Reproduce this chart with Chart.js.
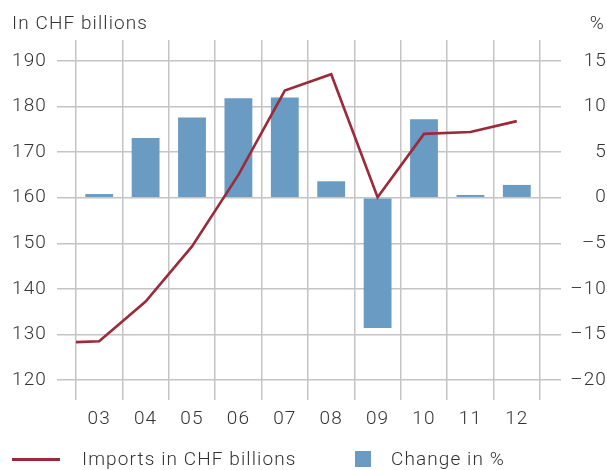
<!DOCTYPE html>
<html>
<head>
<meta charset="utf-8">
<script src="https://cdn.jsdelivr.net/npm/chart.js@4/dist/chart.umd.min.js"></script>
<style>
  body { margin: 0; background: #fff; }
  #wrap { position: relative; width: 607px; height: 470px; font-family: Roboto, "Liberation Sans", sans-serif; font-weight: 300; color: #333; font-size: 19px; letter-spacing: 1.1px; }
  #wrap canvas { position: absolute; left: 0; top: 0; }
  .txt { position: absolute; line-height: 19px; white-space: nowrap; }
  .swatch-line { position: absolute; height: 3px; }
  .swatch-box { position: absolute; width: 16px; height: 16px; }
</style>
</head>
<body>
<div id="wrap">
  <canvas id="importsChart" width="607" height="470"></canvas>
  <div class="txt" style="left:12px; top:13px;">In CHF billions</div>
  <div class="txt" style="right:2px; top:13px;">%</div>
  <div class="swatch-line" id="legLine" style="left:12px; top:458px; width:48px;"></div>
  <div class="txt" style="left:82px; top:449px;">Imports in CHF billions</div>
  <div class="swatch-box" id="legBox" style="left:355px; top:451px;"></div>
  <div class="txt" style="left:391px; top:449px;">Change in %</div>
</div>
<script>
const years = ['03', '04', '05', '06', '07', '08', '09', '10', '11', '12'];
// imports, CHF billions
const imports = [128.5, 137.2, 149.3, 165.0, 183.5, 187.1, 160.1, 174.0, 174.4, 176.8];
// the line comes in from the left edge of the plot
const importsEdge = 128.3;
// year-on-year change, %
const changePct = [0.4, 6.55, 8.8, 10.9, 11.0, 1.8, -14.3, 8.6, 0.3, 1.4];

const chfTicks = [120, 190, 10];   // min, top tick, step
const pctTicks = [-20, 15, 5];

const lineColor = '#9b2a3a';
const barColor = '#6a9bc2';
const gridColor = '#c4c4c4';

document.getElementById('legLine').style.background = lineColor;
document.getElementById('legBox').style.background = barColor;

const linePoints = [{x: -0.5, y: importsEdge}].concat(imports.map((v, i) => ({x: i, y: v})));

const tickFont = {family: 'Roboto, "Liberation Sans", sans-serif', size: 19, weight: 300};

function fmtPct(v){
    return v < 0 ? '\u2013' + Math.abs(v) : String(v);
}

// canvas text gets the same tracking as the html labels
const tracking = {
    id: 'tracking',
    beforeInit(chart){ chart.ctx.letterSpacing = '1.1px'; },
    beforeDraw(chart){ chart.ctx.letterSpacing = '1.1px'; }
};

const ctx = document.getElementById('importsChart').getContext('2d');
new Chart(ctx, {
    type: 'bar',
    plugins: [tracking],
    data: {
        labels: years,
        datasets: [{
            type: 'line',
            label: 'Imports in CHF billions',
            data: linePoints,
            xAxisID: 'xl',
            yAxisID: 'y',
            borderColor: lineColor,
            borderWidth: 2.6,
            pointRadius: 0,
            tension: 0,
            order: 0
        }, {
            label: 'Change in %',
            data: changePct,
            xAxisID: 'x',
            yAxisID: 'y1',
            backgroundColor: barColor,
            barPercentage: 0.6,
            categoryPercentage: 1,
            grouped: false,
            order: 1
        }]
    },
    options: {
        responsive: false,
        animation: false,
        layout: {padding: {top: 40, left: 0, right: 0, bottom: 0}},
        plugins: {legend: {display: false}, tooltip: {enabled: false}},
        scales: {
            x: {
                grid: {color: gridColor, lineWidth: 1.5, tickLength: 20, offset: true},
                border: {display: false},
                ticks: {color: '#333', font: tickFont, padding: 8, maxRotation: 0},
                afterFit: s => { s.height = 90; }
            },
            xl: {
                type: 'linear',
                display: false,
                offset: false,
                grid: {offset: false},
                min: -0.5,
                max: years.length - 0.5
            },
            y: {
                position: 'left',
                min: chfTicks[0],
                max: chfTicks[1] + 4.6,
                grid: {color: gridColor, lineWidth: 1.5, tickLength: 19},
                border: {display: false},
                ticks: {stepSize: chfTicks[2], includeBounds: false, color: '#333', font: tickFont, padding: 10},
                afterFit: s => { s.width = 76; }
            },
            y1: {
                position: 'right',
                min: pctTicks[0],
                max: pctTicks[1] + 2.3,
                grid: {color: gridColor, lineWidth: 1.5, tickLength: 21, drawOnChartArea: false},
                border: {display: false},
                ticks: {stepSize: pctTicks[2], includeBounds: false, color: '#333', font: tickFont, padding: 14, crossAlign: 'far', callback: fmtPct},
                afterFit: s => { s.width = 67; }
            }
        }
    }
});
</script>
</body>
</html>
